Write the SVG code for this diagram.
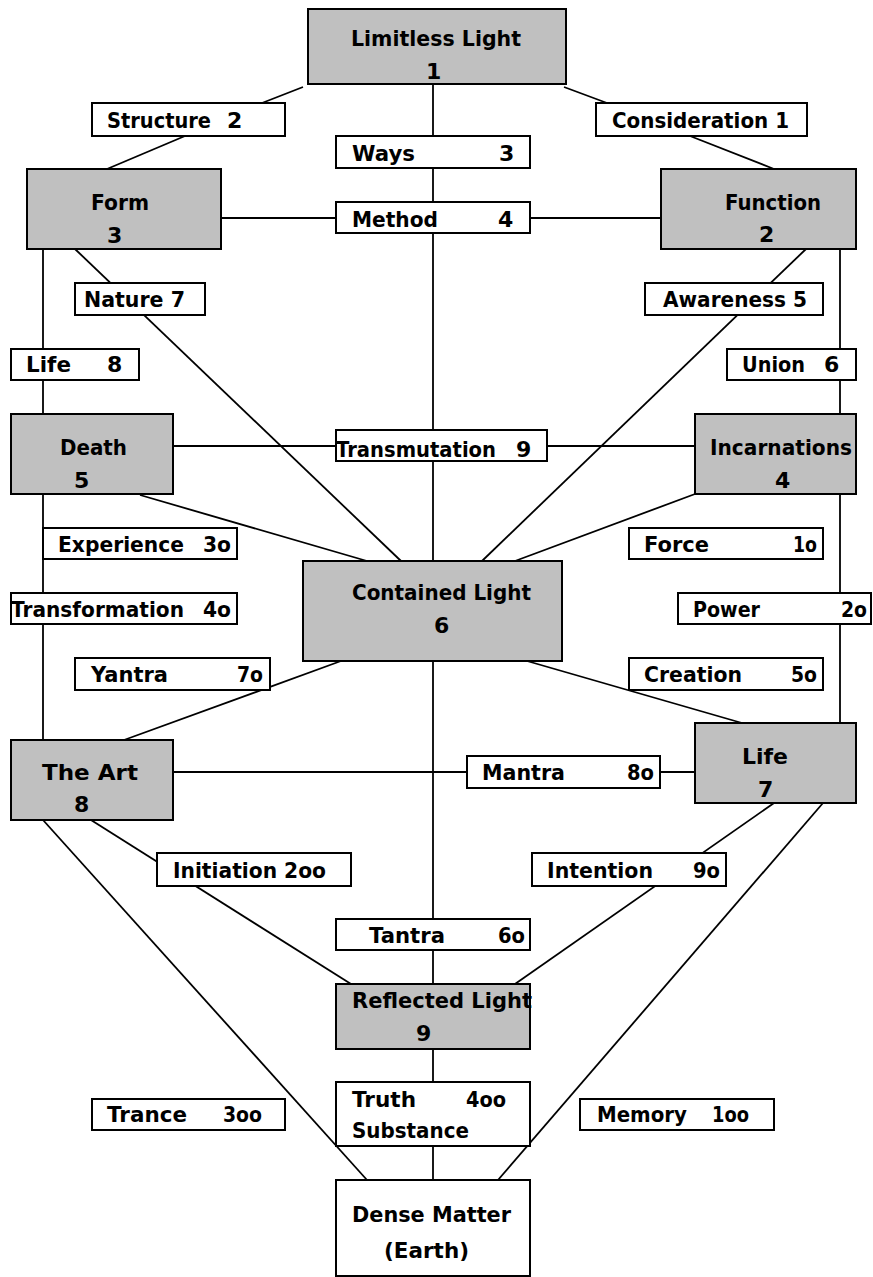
<svg xmlns="http://www.w3.org/2000/svg" width="873" height="1277" viewBox="0 0 873 1277">
<style>
.bg{fill:#fff}
.n{fill:#c0c0c0;stroke:#000;stroke-width:2}
.l{fill:#fff;stroke:#000;stroke-width:2}
.c line{stroke:#000;stroke-width:1.8}
text{font-family:"DejaVu Sans","Liberation Sans",sans-serif;font-weight:bold;font-size:22px;fill:#000}
</style>
<rect class="bg" x="0" y="0" width="873" height="1277"/>
<g id="connectors" class="c">
<line x1="303" y1="87" x2="262" y2="103"/>
<line x1="185" y1="136" x2="107" y2="169"/>
<line x1="564" y1="87" x2="607" y2="103"/>
<line x1="690" y1="136" x2="774" y2="169"/>
<line x1="433" y1="84" x2="433" y2="1180"/>
<line x1="221" y1="218" x2="661" y2="218"/>
<line x1="43" y1="249" x2="43" y2="740"/>
<line x1="840" y1="249" x2="840" y2="723"/>
<line x1="75" y1="249" x2="401" y2="561"/>
<line x1="806" y1="249" x2="482" y2="561"/>
<line x1="173" y1="446" x2="695" y2="446"/>
<line x1="140" y1="495" x2="367" y2="561"/>
<line x1="695" y1="494" x2="515" y2="561"/>
<line x1="341" y1="661" x2="124" y2="740"/>
<line x1="527" y1="661" x2="742" y2="723"/>
<line x1="173" y1="772" x2="695" y2="772"/>
<line x1="91" y1="820" x2="351" y2="984"/>
<line x1="43" y1="820" x2="367" y2="1180"/>
<line x1="774" y1="803" x2="515" y2="984"/>
<line x1="823" y1="803" x2="498" y2="1180"/>
</g>
<g id="limitless-light"><rect class="n" x="308" y="9" width="258" height="75"/><text x="351" y="46" textLength="170" lengthAdjust="spacingAndGlyphs">Limitless Light</text><text x="426" y="79">1</text></g>
<g id="structure"><rect class="l" x="92" y="103" width="193" height="33"/><text x="107" y="128" textLength="104" lengthAdjust="spacingAndGlyphs">Structure</text><text x="227" y="128">2</text></g>
<g id="consideration"><rect class="l" x="596" y="103" width="211" height="33"/><text x="612" y="128" textLength="177" lengthAdjust="spacingAndGlyphs">Consideration 1</text></g>
<g id="ways"><rect class="l" x="336" y="136" width="194" height="32"/><text x="352" y="161" textLength="63" lengthAdjust="spacingAndGlyphs">Ways</text><text x="499" y="161">3</text></g>
<g id="form"><rect class="n" x="27" y="169" width="194" height="80"/><text x="91" y="210" textLength="58" lengthAdjust="spacingAndGlyphs">Form</text><text x="107" y="243">3</text></g>
<g id="method"><rect class="l" x="336" y="202" width="194" height="31"/><text x="352" y="227" textLength="86" lengthAdjust="spacingAndGlyphs">Method</text><text x="498" y="227">4</text></g>
<g id="function"><rect class="n" x="661" y="169" width="195" height="80"/><text x="725" y="210" textLength="96" lengthAdjust="spacingAndGlyphs">Function</text><text x="759" y="242">2</text></g>
<g id="nature"><rect class="l" x="75" y="283" width="130" height="32"/><text x="84" y="307" textLength="101" lengthAdjust="spacingAndGlyphs">Nature 7</text></g>
<g id="awareness"><rect class="l" x="645" y="283" width="178" height="32"/><text x="663" y="307" textLength="144" lengthAdjust="spacingAndGlyphs">Awareness 5</text></g>
<g id="life-8"><rect class="l" x="11" y="349" width="128" height="31"/><text x="26" y="372" textLength="45" lengthAdjust="spacingAndGlyphs">Life</text><text x="107" y="372">8</text></g>
<g id="union"><rect class="l" x="727" y="349" width="129" height="31"/><text x="742" y="372" textLength="63" lengthAdjust="spacingAndGlyphs">Union</text><text x="824" y="372">6</text></g>
<g id="death"><rect class="n" x="11" y="414" width="162" height="80"/><text x="60" y="455" textLength="67" lengthAdjust="spacingAndGlyphs">Death</text><text x="74" y="488">5</text></g>
<g id="transmutation"><rect class="l" x="336" y="430" width="211" height="31"/><text x="336" y="457" textLength="160" lengthAdjust="spacingAndGlyphs">Transmutation</text><text x="516" y="457">9</text></g>
<g id="incarnations"><rect class="n" x="695" y="414" width="161" height="80"/><text x="710" y="455" textLength="142" lengthAdjust="spacingAndGlyphs">Incarnations</text><text x="775" y="488">4</text></g>
<g id="experience"><rect class="l" x="43" y="528" width="194" height="31"/><text x="58" y="552" textLength="126" lengthAdjust="spacingAndGlyphs">Experience</text><text x="203" y="552" textLength="28" lengthAdjust="spacingAndGlyphs">3o</text></g>
<g id="force"><rect class="l" x="629" y="528" width="194" height="31"/><text x="644" y="552" textLength="65" lengthAdjust="spacingAndGlyphs">Force</text><text x="793" y="552" textLength="24" lengthAdjust="spacingAndGlyphs">1o</text></g>
<g id="contained-light"><rect class="n" x="303" y="561" width="259" height="100"/><text x="352" y="600" textLength="179" lengthAdjust="spacingAndGlyphs">Contained Light</text><text x="434" y="633">6</text></g>
<g id="transformation"><rect class="l" x="11" y="593" width="226" height="31"/><text x="11" y="617" textLength="173" lengthAdjust="spacingAndGlyphs">Transformation</text><text x="203" y="617" textLength="28" lengthAdjust="spacingAndGlyphs">4o</text></g>
<g id="power"><rect class="l" x="678" y="593" width="193" height="31"/><text x="693" y="617" textLength="67" lengthAdjust="spacingAndGlyphs">Power</text><text x="841" y="617" textLength="26" lengthAdjust="spacingAndGlyphs">2o</text></g>
<g id="yantra"><rect class="l" x="75" y="658" width="195" height="32"/><text x="91" y="682" textLength="77" lengthAdjust="spacingAndGlyphs">Yantra</text><text x="237" y="682" textLength="26" lengthAdjust="spacingAndGlyphs">7o</text></g>
<g id="creation"><rect class="l" x="629" y="658" width="194" height="32"/><text x="644" y="682" textLength="98" lengthAdjust="spacingAndGlyphs">Creation</text><text x="791" y="682" textLength="26" lengthAdjust="spacingAndGlyphs">5o</text></g>
<g id="the-art"><rect class="n" x="11" y="740" width="162" height="80"/><text x="42" y="780" textLength="96" lengthAdjust="spacingAndGlyphs">The Art</text><text x="74" y="812">8</text></g>
<g id="mantra"><rect class="l" x="467" y="756" width="193" height="32"/><text x="482" y="780" textLength="83" lengthAdjust="spacingAndGlyphs">Mantra</text><text x="627" y="780" textLength="27" lengthAdjust="spacingAndGlyphs">8o</text></g>
<g id="life-7"><rect class="n" x="695" y="723" width="161" height="80"/><text x="742" y="764" textLength="46" lengthAdjust="spacingAndGlyphs">Life</text><text x="758" y="797">7</text></g>
<g id="initiation"><rect class="l" x="157" y="853" width="194" height="33"/><text x="173" y="878" textLength="153" lengthAdjust="spacingAndGlyphs">Initiation 2oo</text></g>
<g id="intention"><rect class="l" x="532" y="853" width="194" height="33"/><text x="547" y="878" textLength="106" lengthAdjust="spacingAndGlyphs">Intention</text><text x="693" y="878" textLength="27" lengthAdjust="spacingAndGlyphs">9o</text></g>
<g id="tantra"><rect class="l" x="336" y="919" width="194" height="31"/><text x="369" y="943" textLength="76" lengthAdjust="spacingAndGlyphs">Tantra</text><text x="498" y="943" textLength="27" lengthAdjust="spacingAndGlyphs">6o</text></g>
<g id="reflected-light"><rect class="n" x="336" y="984" width="194" height="65"/><text x="352" y="1008" textLength="180" lengthAdjust="spacingAndGlyphs">Reflected Light</text><text x="416" y="1041">9</text></g>
<g id="truth-substance"><rect class="l" x="336" y="1082" width="194" height="64"/><text x="352" y="1107" textLength="64" lengthAdjust="spacingAndGlyphs">Truth</text><text x="466" y="1107" textLength="40" lengthAdjust="spacingAndGlyphs">4oo</text><text x="352" y="1138" textLength="117" lengthAdjust="spacingAndGlyphs">Substance</text></g>
<g id="trance"><rect class="l" x="92" y="1099" width="193" height="31"/><text x="107" y="1122" textLength="80" lengthAdjust="spacingAndGlyphs">Trance</text><text x="223" y="1122" textLength="39" lengthAdjust="spacingAndGlyphs">3oo</text></g>
<g id="memory"><rect class="l" x="580" y="1099" width="194" height="31"/><text x="597" y="1122" textLength="90" lengthAdjust="spacingAndGlyphs">Memory</text><text x="712" y="1122" textLength="37" lengthAdjust="spacingAndGlyphs">1oo</text></g>
<g id="dense-matter"><rect class="l" x="336" y="1180" width="194" height="96"/><text x="352" y="1222" textLength="159" lengthAdjust="spacingAndGlyphs">Dense Matter</text><text x="384" y="1258" textLength="85" lengthAdjust="spacingAndGlyphs">(Earth)</text></g>
</svg>
